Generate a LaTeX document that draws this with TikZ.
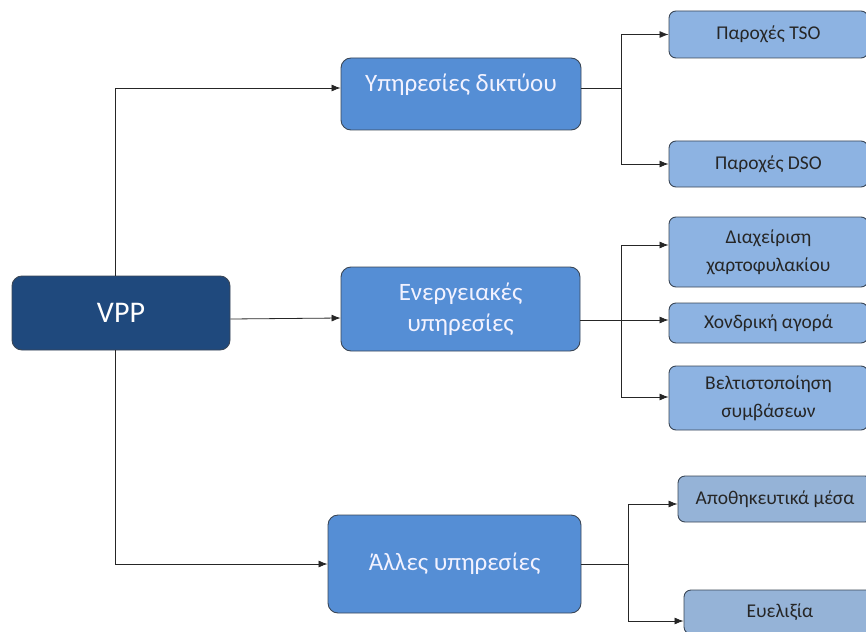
\documentclass[tikz,border=0pt]{standalone}
\usepackage{fontspec}
\setmainfont{Carlito}
\usetikzlibrary{arrows.meta}
\definecolor{bleuVPP}{HTML}{1F497D}
\definecolor{bleuServ}{HTML}{558ED5}
\definecolor{bleuOffre}{HTML}{8DB3E2}
\definecolor{grisOffre}{HTML}{95B3D7}
\definecolor{bord}{HTML}{3A4656}
\begin{document}
\begin{tikzpicture}[x=1pt,y=-1pt,
	boiteVPP/.style={draw=bord,line width=0.9pt,fill=bleuVPP,rounded corners=10pt,text=white,font={\fontsize{30}{34}\selectfont}},
	boiteServ/.style={draw=bord,line width=0.9pt,fill=bleuServ,rounded corners=10pt,text=white!95!blue,align=center,font={\fontsize{25}{31}\selectfont}},
	boiteOffre/.style={draw=bord,line width=0.9pt,fill=bleuOffre,rounded corners=7pt,text=black!85,align=center,font={\fontsize{19.5}{28}\selectfont}},
	fleche/.style={-{Latex[length=9pt,width=7pt]},line width=0.8pt,black!85}]
	% Dimensions de l'image
	\def\lrg{866} \def\htr{631}
	\useasboundingbox (0,0) rectangle (\lrg,\htr);
%
% Noeud central
	\node[boiteVPP,minimum width=218pt,minimum height=74pt] (vpp) at (121,313) {VPP};
% Services
	\node[boiteServ,minimum width=240pt,minimum height=72pt,text height=17pt,text depth=22pt] (reseau) at (461,94) {Υπηρεσίες δικτύου};
	\node[boiteServ,minimum width=239pt,minimum height=84pt] (energie) at (460.5,309) {Ενεργειακές\\υπηρεσίες};
	\node[boiteServ,minimum width=253pt,minimum height=98pt] (autres) at (454.5,564) {Άλλες υπηρεσίες};
% Offres (coupees a droite)
	\node[boiteOffre,minimum width=199pt,minimum height=47pt] (tso) at (768.5,34.5) {Παροχές TSO};
	\node[boiteOffre,minimum width=199pt,minimum height=46pt] (dso) at (768.5,164) {Παροχές DSO};
	\node[boiteOffre,minimum width=199pt,minimum height=70pt] (portef) at (768.5,252) {Διαχείριση\\χαρτοφυλακίου};
	\node[boiteOffre,minimum width=199pt,minimum height=40pt] (gros) at (768.5,323) {Χονδρική αγορά};
	\node[boiteOffre,minimum width=199pt,minimum height=64pt] (contrats) at (768.5,398) {Βελτιστοποίηση\\συμβάσεων};
	\node[boiteOffre,fill=grisOffre,minimum width=194pt,minimum height=46pt] (stockage) at (775,499) {Αποθηκευτικά μέσα};
	\node[boiteOffre,fill=grisOffre,minimum width=192pt,minimum height=44pt] (flex) at (780,612) {Ευελιξία};
%
% Liaisons VPP -> services
	\draw[fleche] ([xshift=-6pt]vpp.north) |- ([yshift=6pt]reseau.west);
	\draw[fleche] ([yshift=-6pt]vpp.east) -- ([yshift=-9pt]energie.west);
	\draw[fleche] ([xshift=-6pt]vpp.south) |- (autres.west);
% Embranchements
	\coordinate (b1) at (621,88);
	\coordinate (b2) at (621,320);
	\coordinate (b3) at (628,564);
	\draw[line width=0.8pt,black!85] ([yshift=6pt]reseau.east) -- (b1);
	\draw[line width=0.8pt,black!85] ([yshift=-11pt]energie.east) -- (b2);
	\draw[line width=0.8pt,black!85] (autres.east) -- (b3);
	\foreach \cible in {tso,dso}{
		\draw[fleche] (b1) |- (\cible.west);
	};
	\foreach \cible/\dec in {portef/7,gros/3,contrats/1}{
		\draw[fleche] (b2) |- ([yshift=\dec pt]\cible.west);
	};
	\draw[fleche] (b3) |- ([yshift=-5pt]stockage.west);
	\draw[fleche] (b3) |- ([yshift=-9pt]flex.west);

\end{tikzpicture}
\end{document}
